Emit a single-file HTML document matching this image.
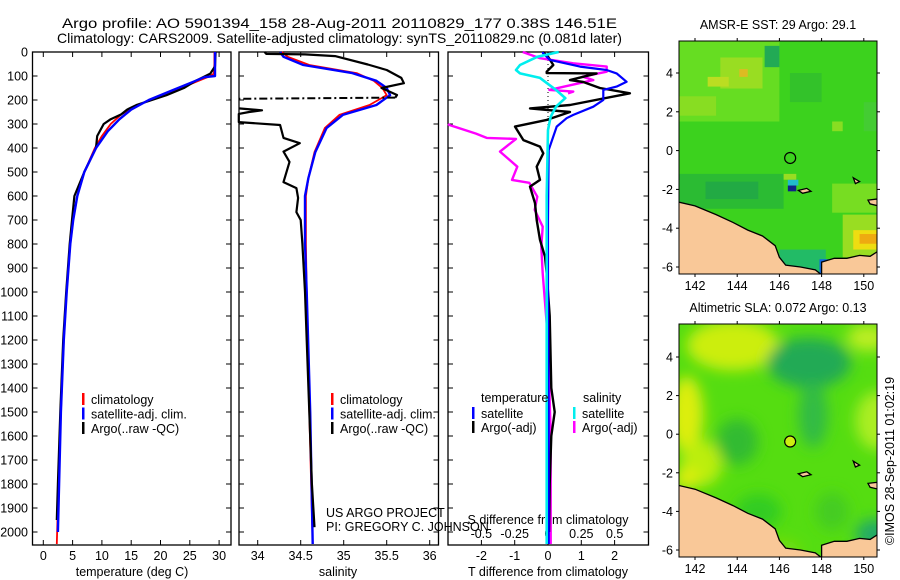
<!DOCTYPE html>
<html><head><meta charset="utf-8"><style>
html,body{margin:0;padding:0;background:#fff;}
svg{display:block;font-family:"Liberation Sans",sans-serif;}
</style></head><body>
<svg id="chart" width="900" height="580" viewBox="0 0 900 580" xmlns="http://www.w3.org/2000/svg">
<rect width="900" height="580" fill="#fff"/>
<text x="62" y="28" font-size="14" textLength="555" lengthAdjust="spacingAndGlyphs">Argo profile: AO 5901394_158 28-Aug-2011 20110829_177 0.38S 146.51E</text>
<text x="57" y="43" font-size="14" textLength="565" lengthAdjust="spacingAndGlyphs">Climatology: CARS2009. Satellite-adjusted climatology: synTS_20110829.nc (0.081d later)</text>
<g id="g"></g>
</svg>
<script>
// ---------- data ----------
const depthTicks=[0,100,200,300,400,500,600,700,800,900,1000,1100,1200,1300,1400,1500,1600,1700,1800,1900,2000];
const tempTicks=[0,5,10,15,20,25,30];
const salTicks=[34,34.5,35,35.5,36];
const salTickLabels=["34","34.5","35","35.5","36"];
const dTTicks=[-2,-1,0,1,2];
const dSTicks=[-0.5,-0.25,0,0.25,0.5];
const dSTickLabels=["-0.5","-0.25","0","0.25","0.5"];

const tempClimDepth=[0,50,90,100,120,150,175,200,230,260,300,350,400,500,600,700,800,1000,1200,1500,1800,2050];
const tempClim=[29.2,29.2,29.1,28.5,26.5,23.5,20.5,18,15.5,13.3,11.5,10,8.8,7,5.8,5.1,4.6,4.0,3.5,3.0,2.6,2.3];
const tempSatDepth=[0,100,105,130,160,200,240,280,330,400,500,600,700,800,1000,1200,1500,1800,2000];
const tempSat=[29.3,29.3,27.5,25,22,18,15,13,11,9,7,5.8,5.1,4.6,4.0,3.5,3.0,2.7,2.5];
const tempArgoDepth=[0,60,90,120,150,180,220,240,260,280,300,350,400,500,600,700,800,1000,1200,1500,1800,1950];
const tempArgo=[29.4,29.3,28.5,26,24,21,16,14.3,13.3,11.5,10.3,9.2,9,7,5.3,4.9,4.5,3.9,3.4,2.9,2.5,2.3];

const salDepth=[0,20,54,88,120,150,180,221,262,317,417,525,600,800,1000,1500,2050];
const salClim=[34.28,34.35,34.6,35.15,35.35,35.45,35.5,35.3,34.95,34.78,34.66,34.59,34.56,34.56,34.57,34.6,34.64];
const salSat=[34.26,34.3,34.53,35.1,35.38,35.5,35.54,35.38,34.99,34.8,34.67,34.59,34.55,34.55,34.57,34.61,34.64];
const salArgoUpDepth=[0,8,10,17,52,75,108,130,150,179,190];
const salArgoUp=[34.08,34.1,34.55,34.9,35.28,35.5,35.67,35.7,35.44,35.62,35.6];
const salArgoLowDepth=[235,243,250,258,292,304,358,380,415,458,542,567,608,667,700,800,1000,1200,1500,1800,1980];
const salArgoLow=[33.78,34.05,33.9,33.78,33.78,34.26,34.3,34.49,34.3,34.37,34.3,34.45,34.47,34.45,34.5,34.52,34.55,34.57,34.6,34.63,34.66];

const dTSatDepth=[0,5,33,61,75,89,124,144,158,200,228,262,276,311,408,700,1000,1500,2050];
const dTSat=[-0.15,-0.15,0.06,0.96,1.76,2.06,2.36,2.06,1.66,1.66,1.36,0.76,0.56,0.26,0.02,0,0,0.02,0.02];
const dTArgoDepth=[0,19,54,82,88,89,117,125,150,172,221,235,250,283,311,367,394,422,478,533,561,630,700,783,853,922,1100,1400,1500,1600,1800,2000];
const dTArgo=[-0.15,0,0.16,-0.04,-0.04,1.46,0.66,1.06,1.56,2.46,0.66,-0.54,0.66,-0.04,-0.99,-0.74,-0.24,-0.14,-0.34,-0.24,-0.54,-0.39,-0.34,-0.24,-0.09,-0.04,0.05,0.1,0.2,0.1,0.05,0.03];
const dSArgoUpDepth=[0,26,47,61,82,103,117,158,165,172];
const dSArgoUp=[-0.19,-0.06,0.19,0.44,0.44,0.26,0.34,0.01,0.19,0.15];
const dSArgoLowDepth=[300,304,340,358,362,415,478,533,545,603,658,728,811,922,1200,1600,2050];
const dSArgoLow=[-0.75,-0.74,-0.54,-0.46,-0.24,-0.36,-0.23,-0.27,-0.14,-0.08,-0.1,-0.04,-0.05,-0.04,0.0,0.02,0.02];
const dSSatDepth=[0,20,54,75,89,108,137,158,192,228,269,325,600,1000,2050];
const dSSat=[0.08,-0.08,-0.21,-0.24,-0.21,-0.06,0.01,0.06,0.13,0.06,0.02,0,-0.01,-0.01,-0.01];

const lonTicks=[142,144,146,148,150];
const latTicks=[-6,-4,-2,0,2,4];
const argoLon=146.51, argoLat=-0.38;

// ---------- helpers ----------
const NS="http://www.w3.org/2000/svg";
const root=document.getElementById('g');
function mk(tag,attrs,parent){const e=document.createElementNS(NS,tag);for(const k in attrs)e.setAttribute(k,attrs[k]);(parent||root).appendChild(e);return e;}
function txt(s,x,y,size,anchor,parent){const t=mk('text',{x:x,y:y,'font-size':size,'text-anchor':anchor||'start'},parent);t.textContent=s;return t;}
const yD=d=>52+0.24*d;
const P=[{x0:32.5,x1:231},{x0:239,x1:438.5},{x0:448,x1:648.5}];
const xT=t=>43.3+5.86*t;
const xS=s=>257.7+86*(s-34);
const xdT=t=>548+33.3*t;
const xdS=s=>548+133.3*s;
function line(depths,vals,xf,color,w,name,dash){
  const pts=depths.map((d,i)=>xf(vals[i]).toFixed(1)+','+yD(d).toFixed(1)).join(' ');
  const e=mk('polyline',{points:pts,fill:'none',stroke:color,'stroke-width':w,'stroke-linejoin':'round'});
  if(dash)e.setAttribute('stroke-dasharray',dash);
  
  
  return e;
}

// ---------- panels ----------
P.forEach((p,pi)=>{
  const f=mk('rect',{x:p.x0,y:52,width:p.x1-p.x0,height:493,fill:'none',stroke:'#000','stroke-width':1.3});
  
  
  depthTicks.forEach(d=>{
    mk('line',{x1:p.x0,x2:p.x0+5,y1:yD(d),y2:yD(d),stroke:'#000'});
    mk('line',{x1:p.x1-5,x2:p.x1,y1:yD(d),y2:yD(d),stroke:'#000'});
  });
});
depthTicks.forEach(d=>{
  const t=txt(String(d),28,yD(d)+4.5,12.5,'end');
  
  
});
function xticks(vals,labels,xf,y,name){
  vals.forEach((v,i)=>{
    const x=xf(v);
    mk('line',{x1:x,x2:x,y1:545,y2:540,stroke:'#000'});
    mk('line',{x1:x,x2:x,y1:52,y2:57,stroke:'#000'});
    const t=txt(labels[i],x,y,12.5,'middle');
    
    
  });
}
xticks(tempTicks,tempTicks.map(String),xT,560,'temperature-tick-label');
xticks(salTicks,salTickLabels,xS,560,'salinity-tick-label');
xticks(dTTicks,dTTicks.map(String),xdT,560,'t-diff-tick-label');
dSTicks.forEach((v,i)=>{const t=txt(dSTickLabels[i],xdS(v),538,12.5,'middle');
  
  });
let t;
t=txt('temperature (deg C)',132,576,12.5,'middle');


t=txt('salinity',338,576,12.5,'middle');


t=txt('T difference from climatology',548,576,12.5,'middle');


t=txt('S difference from climatology',548,524,12.5,'middle');


t=txt('US ARGO PROJECT',326,517,12.5);


t=txt('PI: GREGORY C. JOHNSON',326,531,12.5);



// zero dotted line in diff panel
mk('line',{x1:548,x2:548,y1:52,y2:545,stroke:'#000','stroke-dasharray':'1,3'});

// series panel 1
line(tempClimDepth,tempClim,xT,'#ff0000',1.8,'temp-climatology-line');
line(tempArgoDepth,tempArgo,xT,'#000',2.2,'temp-argo-line');
line(tempSatDepth,tempSat,xT,'#0000ff',2.4,'temp-satellite-line');
// panel 2
line(salDepth,salClim,xS,'#ff0000',1.8,'sal-climatology-line');
line(salDepth,salSat,xS,'#0000ff',2.4,'sal-satellite-line');
line(salArgoUpDepth,salArgoUp,xS,'#000',2.2,'sal-argo-line-upper');
line([salArgoUpDepth[salArgoUpDepth.length-1],salArgoLowDepth[0]-40],[salArgoUp[salArgoUp.length-1],salArgoLow[0]],xS,'#000',2,'sal-argo-gap-line','8,3,2,3');
line(salArgoLowDepth,salArgoLow,xS,'#000',2.2,'sal-argo-line-lower');
// panel 3
line(dSArgoUpDepth,dSArgoUp,xdS,'#ff00ff',2.4,'s-diff-argo-upper');
line(dSArgoLowDepth,dSArgoLow,xdS,'#ff00ff',2.4,'s-diff-argo-lower');
line(dTArgoDepth,dTArgo,xdT,'#000',2.4,'t-diff-argo-line');
line(dTSatDepth,dTSat,xdT,'#0000ff',2.2,'t-diff-satellite-line');
line(dSSatDepth,dSSat,xdS,'#00eeee',2.6,'s-diff-satellite-line');

// legends
function leg(x,y,color,label,name){
  const g=mk('g',{});
  
  
  mk('rect',{x:x-1,y:y-10,width:2.5,height:12,fill:color},g);
  txt(label,x+8,y+1,12.5,'start',g);
}
[[83,'#ff0000','climatology'],[83,'#0000ff','satellite-adj. clim.'],[83,'#000','Argo(..raw -QC)']].forEach((r,i)=>leg(r[0],403+i*14.5,r[1],r[2],'legend-entry-temp-'+i));
[[332,'#ff0000','climatology'],[332,'#0000ff','satellite-adj. clim.'],[332,'#000','Argo(..raw -QC)']].forEach((r,i)=>leg(r[0],403+i*14.5,r[1],r[2],'legend-entry-sal-'+i));
t=txt('temperature',481,402,12.5);


t=txt('salinity',583,402,12.5);


leg(473,417,'#0000ff','satellite','legend-entry-tdiff-satellite');
leg(473,431,'#000','Argo(-adj)','legend-entry-tdiff-argo');
leg(574,417,'#00eeee','satellite','legend-entry-sdiff-satellite');
leg(574,431,'#ff00ff','Argo(-adj)','legend-entry-sdiff-argo');

// ---------- maps ----------
const defs=mk('defs',{});
const flt=mk('filter',{id:'blur',x:'-20%',y:'-20%',width:'140%',height:'140%'},defs);
mk('feGaussianBlur',{stdDeviation:7},flt);
const lonX=lon=>695+21.1*(lon-142);
const land=[[141.2,-2.65],[142,-2.85],[143,-3.3],[143.8,-3.7],[144.5,-4.1],[145.2,-4.4],[145.8,-4.9],[146,-5.5],[146.3,-5.9],[147,-6.0],[147.7,-6.15],[148,-6.4],[141.2,-6.4]];
const land2=[[148.0,-5.75],[148.6,-5.55],[149.2,-5.55],[149.8,-5.4],[150.3,-5.45],[150.8,-5.1],[151.2,-4.9],[151.7,-4.6],[151.7,-6.4],[148.0,-6.4]];
const islands=[[[146.9,-2.05],[147.3,-1.95],[147.5,-2.1],[147.1,-2.2]],[[150.2,-2.55],[150.6,-2.5],[151.0,-2.8],[151.6,-3.1],[151.6,-3.3],[150.9,-2.9],[150.3,-2.75]],[[149.5,-1.4],[149.8,-1.6],[149.6,-1.7]]];
function drawMap(y0,latY,kind,title){
  const g=mk('g',{});
  
  
  const cp=mk('clipPath',{id:'cp'+kind},defs);
  mk('rect',{x:679,y:y0,width:198,height:233},cp);
  const inner=mk('g',{'clip-path':'url(#cp'+kind+')'},g);
  const R=(a,b,c,d,col,p)=>mk('rect',{x:lonX(a),y:latY(d),width:lonX(b)-lonX(a),height:latY(c)-latY(d),fill:col},p||inner);
  if(kind==='sst'){
    R(141,152,-7,6,'#3cd21e');
    R(141,146,1.5,6,'#66dd22');R(143.2,145.2,3.2,4.8,'#99dd22');R(144.1,144.5,3.8,4.2,'#ddbb22');
    R(142.6,143.6,3.3,3.8,'#bbdd22');R(145.3,146,4.3,5.4,'#22aa55');R(146.5,148,2.5,4,'#33c22a');
    R(141.2,146.2,-3,-1.2,'#2bbb33');R(142.5,145,-2.5,-1.6,'#22aa44');R(149,151.7,-5.5,-3.3,'#99dd22');
    R(149.5,151.3,-5.1,-4.1,'#eedd11');R(149.8,150.8,-4.8,-4.3,'#eeaa11');R(148.5,151.7,-3.2,-1.7,'#77dd22');
    R(146,148.2,-6.4,-5.1,'#22bb66');R(147.9,149,-6.4,-5.6,'#1166dd');R(148.3,148.8,-6.4,-5.9,'#0033bb');
    R(146.4,146.8,-2.1,-1.8,'#112288');R(146.4,146.9,-1.8,-1.5,'#22bbcc');R(146.2,146.8,-1.5,-1.2,'#99dd22');
    R(141.2,143,1.8,2.8,'#88dd22');R(148.5,149,1,1.5,'#88dd22');R(150,151.7,1,2.5,'#44cc33');
  } else {
    R(141,152,-7,6,'#55dd11');
    const bl=mk('g',{filter:'url(#blur)'},inner);
    const E=(cx,cy,rx,ry,col)=>mk('ellipse',{cx:lonX(cx),cy:latY(cy),rx:rx*21,ry:ry*19.3,fill:col},bl);
    E(143.8,4.6,2.2,1.3,'#ccee11');E(141.6,1,0.8,2,'#ddee11');E(142.3,-1.5,1,1.2,'#bbee11');E(141.6,-2.3,0.6,0.6,'#ddee11');
    E(150.6,0.7,1,1.5,'#aaee22');E(150.2,5,1,0.7,'#bbee22');
    E(147.4,3.7,2,1.3,'#22aa55');E(147.6,1,0.7,1.7,'#33bb44');E(144,-0.4,1,1.2,'#33bb33');
    E(150.5,-5.2,0.9,0.8,'#22aa66');E(145,-4,1.1,0.9,'#33cc22');E(148.5,-4,0.8,1,'#44cc22');E(146,-6,1,0.5,'#77dd11');
  }
  const poly=(arr,fill)=>mk('polygon',{points:arr.map(p=>lonX(p[0]).toFixed(1)+','+latY(p[1]).toFixed(1)).join(' '),fill:fill,stroke:'#000','stroke-width':1.3},inner);
  poly(land,'#f9c898');poly(land2,'#f9c898');islands.forEach(is=>poly(is,'#f9c898'));
  const c=mk('circle',{cx:lonX(argoLon),cy:latY(argoLat),r:5.5,fill:kind==='sst'?'none':'#ccee11',stroke:'#000','stroke-width':1.2},g);
  
  
  mk('rect',{x:679,y:y0,width:198,height:233,fill:'none',stroke:'#000','stroke-width':1},g);
  lonTicks.forEach(l=>{
    mk('line',{x1:lonX(l),x2:lonX(l),y1:y0,y2:y0-3,stroke:'#000'},g);
    mk('line',{x1:lonX(l),x2:lonX(l),y1:y0+233,y2:y0+236,stroke:'#000'},g);
    const tl=txt(String(l),lonX(l),y0+249,12.5,'middle',g);
    
    
  });
  latTicks.forEach(l=>{
    mk('line',{x1:877,x2:880,y1:latY(l),y2:latY(l),stroke:'#000'},g);
    mk('line',{x1:676,x2:679,y1:latY(l),y2:latY(l),stroke:'#000'},g);
    const tl=txt(String(l),673,latY(l)+4.5,12.5,'end',g);
    
    
  });
  const tt=txt(title,778,y0-12,12.5,'middle',g);
  
  
}
drawMap(41,lat=>73-19.4*(lat-4),'sst','AMSR-E SST: 29 Argo: 29.1');
drawMap(324,lat=>357-19.3*(lat-4),'sla','Altimetric SLA: 0.072 Argo: 0.13');
t=txt('©IMOS 28-Sep-2011 01:02:19',0,0,12.5,'middle');
t.setAttribute('transform','translate(894,461) rotate(-90)');


</script>
</body></html>
